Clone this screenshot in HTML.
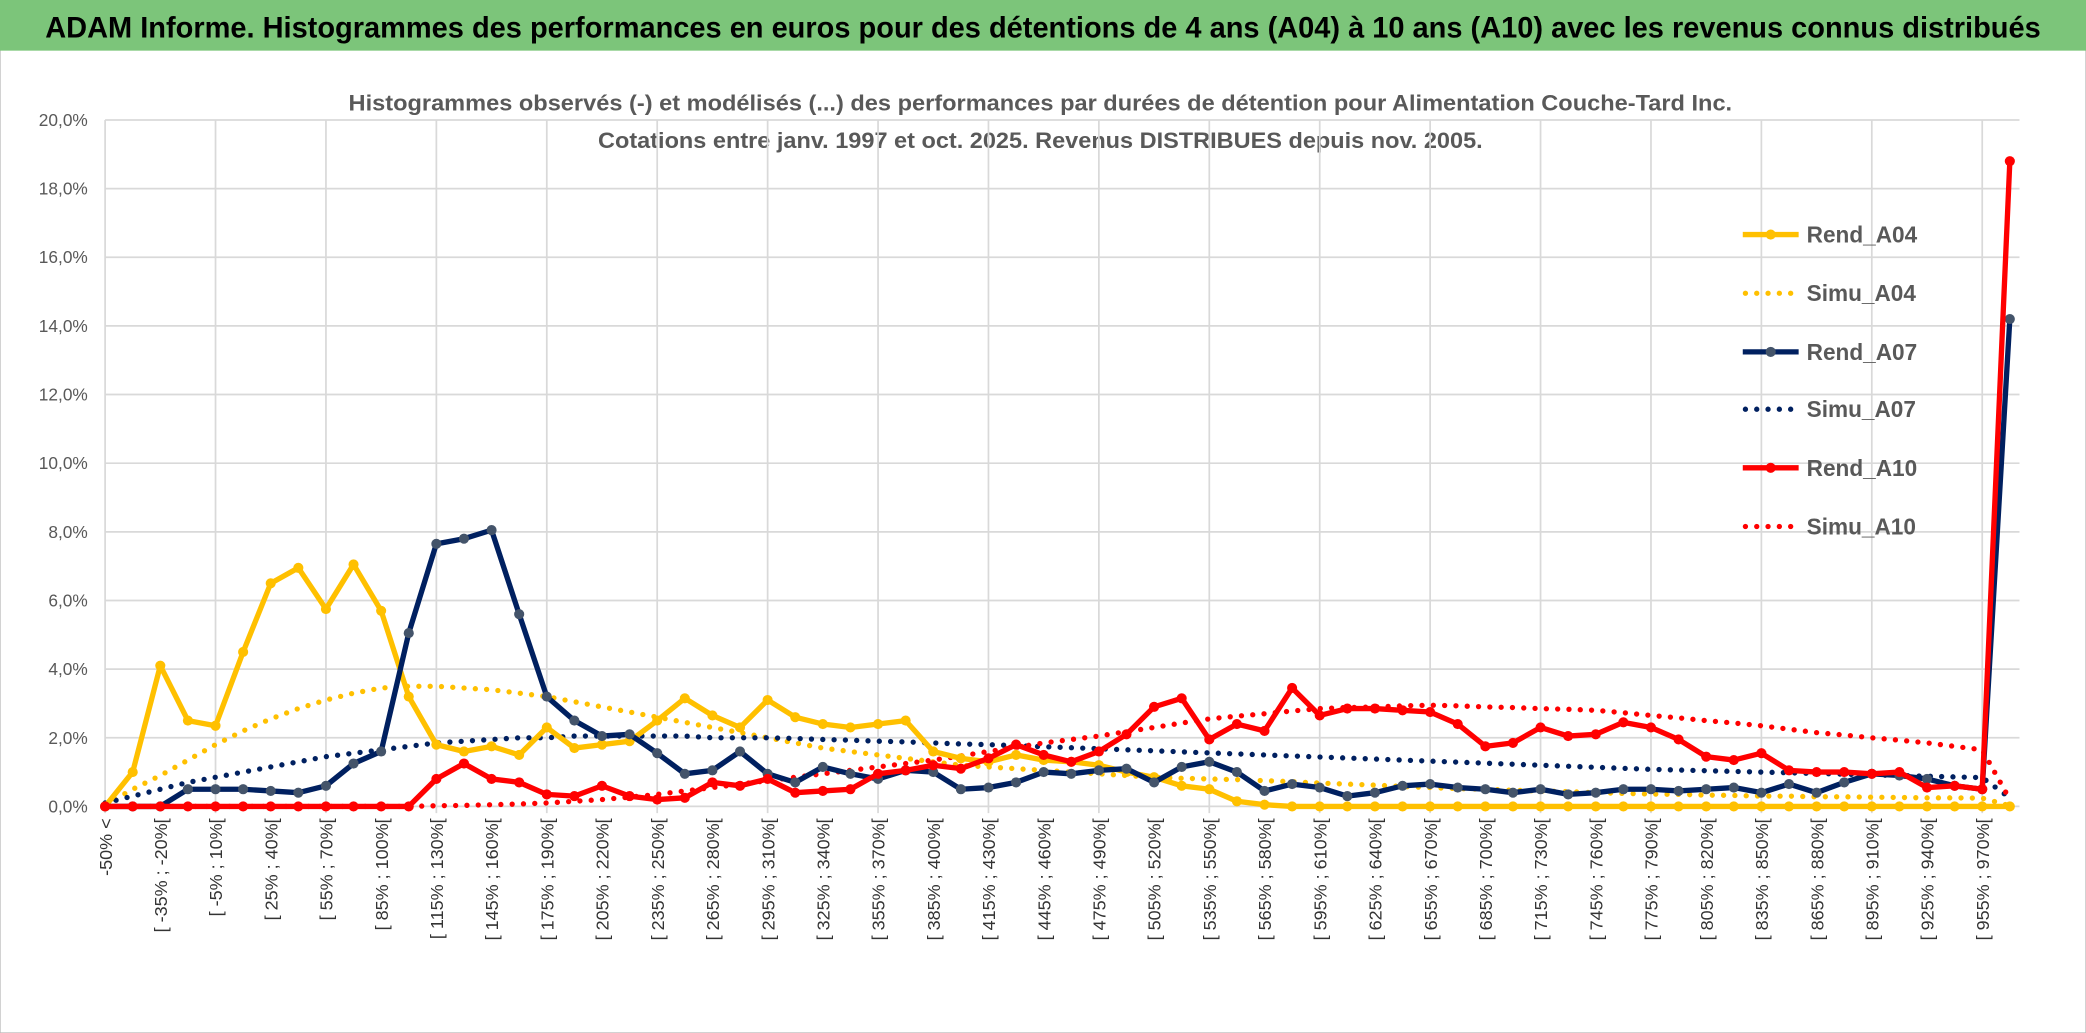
<!DOCTYPE html>
<html><head><meta charset="utf-8"><style>
html,body{margin:0;padding:0;background:#fff;}
svg{display:block;}
text{font-family:"Liberation Sans",sans-serif;}
</style></head><body>
<svg id="chart" width="2086" height="1033" viewBox="0 0 1568 775" preserveAspectRatio="none" xmlns="http://www.w3.org/2000/svg">
<rect x="0" y="0" width="1568" height="775" fill="#fff" stroke="#bbb"/>
<rect x="0" y="0" width="1568" height="38" fill="#7cc57a"/>
<text x="784" y="28" text-anchor="middle" font-size="22" font-weight="bold" fill="#000" textLength="1500" lengthAdjust="spacingAndGlyphs">ADAM Informe. Histogrammes des performances en euros pour des détentions de 4 ans (A04) à 10 ans (A10) avec les revenus connus distribués</text>
<text x="782" y="83" text-anchor="middle" font-size="16.5" font-weight="bold" fill="#595959" textLength="1040" lengthAdjust="spacingAndGlyphs">Histogrammes observés (-) et modélisés (...) des performances par durées de détention pour Alimentation Couche-Tard Inc.</text>
<text x="782" y="111" text-anchor="middle" font-size="16.5" font-weight="bold" fill="#595959" textLength="665" lengthAdjust="spacingAndGlyphs">Cotations entre janv. 1997 et oct. 2025. Revenus DISTRIBUES depuis nov. 2005.</text>
<g id="grid"></g>
<g id="yaxis"></g>
<g id="xaxis"></g>
<g id="series"></g>
<g id="legend"></g>
</svg>
<script>
const yTicks = [0,2,4,6,8,10,12,14,16,18,20];
const rendA04 = [0,1.0,4.1,2.5,2.35,4.5,6.5,6.95,5.75,7.05,5.7,3.2,1.8,1.6,1.75,1.5,2.3,1.7,1.8,1.9,2.5,3.15,2.65,2.3,3.1,2.6,2.4,2.3,2.4,2.5,1.6,1.4,1.3,1.5,1.35,1.3,1.2,1.0,0.85,0.6,0.5,0.15,0.05,0,0,0,0,0,0,0,0,0,0,0,0,0,0,0,0,0,0,0,0,0,0,0,0,0,0,0];
const simuA04 = [0.05,0.5,0.9,1.35,1.8,2.2,2.55,2.85,3.1,3.3,3.45,3.5,3.5,3.45,3.4,3.3,3.2,3.05,2.9,2.75,2.6,2.45,2.3,2.15,2.0,1.85,1.7,1.6,1.5,1.4,1.3,1.2,1.15,1.1,1.05,1.0,0.95,0.9,0.85,0.82,0.8,0.78,0.75,0.72,0.68,0.65,0.62,0.58,0.55,0.52,0.5,0.47,0.45,0.43,0.4,0.38,0.36,0.35,0.33,0.32,0.3,0.3,0.28,0.28,0.27,0.26,0.25,0.25,0.24,0.02];
const rendA07 = [0,0,0,0.5,0.5,0.5,0.45,0.4,0.6,1.25,1.6,5.05,7.65,7.8,8.05,5.6,3.2,2.5,2.05,2.1,1.55,0.95,1.05,1.6,0.95,0.7,1.15,0.95,0.8,1.05,1.0,0.5,0.55,0.7,1.0,0.95,1.05,1.1,0.7,1.15,1.3,1.0,0.45,0.65,0.55,0.3,0.4,0.6,0.65,0.55,0.5,0.4,0.5,0.35,0.4,0.5,0.5,0.45,0.5,0.55,0.4,0.65,0.4,0.7,0.95,0.9,0.8,0.6,0.5,14.2];
const simuA07 = [0.1,0.3,0.5,0.7,0.85,1.0,1.15,1.3,1.45,1.55,1.65,1.75,1.85,1.9,1.95,2.0,2.0,2.05,2.05,2.05,2.05,2.05,2.0,2.0,2.0,1.98,1.95,1.93,1.9,1.88,1.85,1.82,1.8,1.77,1.74,1.71,1.68,1.65,1.62,1.59,1.56,1.53,1.5,1.47,1.44,1.41,1.38,1.35,1.32,1.29,1.26,1.23,1.2,1.17,1.14,1.11,1.08,1.06,1.04,1.02,1.0,0.98,0.96,0.94,0.92,0.9,0.88,0.86,0.84,0.25];
const rendA10 = [0,0,0,0,0,0,0,0,0,0,0,0,0.8,1.25,0.8,0.7,0.35,0.3,0.6,0.3,0.2,0.25,0.7,0.6,0.8,0.4,0.45,0.5,0.95,1.05,1.2,1.1,1.4,1.8,1.5,1.3,1.6,2.1,2.9,3.15,1.95,2.4,2.2,3.45,2.65,2.85,2.85,2.8,2.75,2.4,1.75,1.85,2.3,2.05,2.1,2.45,2.3,1.95,1.45,1.35,1.55,1.05,1.0,1.0,0.95,1.0,0.55,0.6,0.5,18.8];
const simuA10 = [0,0,0,0,0,0,0,0,0,0,0,0,0.02,0.03,0.05,0.07,0.1,0.15,0.2,0.27,0.35,0.45,0.55,0.65,0.75,0.85,0.95,1.05,1.15,1.25,1.35,1.47,1.6,1.72,1.85,1.95,2.05,2.18,2.3,2.43,2.55,2.63,2.7,2.78,2.85,2.88,2.9,2.93,2.95,2.93,2.9,2.88,2.85,2.83,2.8,2.73,2.65,2.58,2.5,2.43,2.35,2.25,2.15,2.08,2.0,1.93,1.85,1.75,1.65,0.2];
const legendLabels = ["Rend_A04","Simu_A04","Rend_A07","Simu_A07","Rend_A10","Simu_A10"];

const NS="http://www.w3.org/2000/svg";
const N = rendA04.length;
const X0=79, STEP=20.75, Y0=605, YTOP=90, YMAX=20;
function xs(i){return X0+i*STEP;}
function ys(v){return Y0-(v/YMAX)*(Y0-YTOP);}
function mk(tag,attrs,parent){const e=document.createElementNS(NS,tag);for(const k in attrs)e.setAttribute(k,attrs[k]);parent.appendChild(e);return e;}
function catLabel(i){
  if(i===0) return "-50% <";
  if(i===N-1) return "> 970%";
  const a=-50+15*(i-1), b=a+15;
  return "[ "+a+"% ; "+b+"%[";
}
const grid=document.getElementById('grid'), yaxis=document.getElementById('yaxis'), xaxis=document.getElementById('xaxis'), series=document.getElementById('series'), legend=document.getElementById('legend');
yTicks.forEach(t=>{
  const l=mk('line',{x1:X0,x2:1518,y1:ys(t),y2:ys(t),stroke:'#d9d9d9','stroke-width':1.3},grid);
  
  
  const tx=mk('text',{x:66,y:ys(t)+4.5,'text-anchor':'end','font-size':13,fill:'#595959'},yaxis);
  tx.textContent=t.toFixed(1).replace('.',',')+'%';
  
  
});
for(let i=0;i<N;i+=4){
  const l=mk('line',{x1:xs(i),x2:xs(i),y1:YTOP,y2:Y0+5,stroke:'#d9d9d9','stroke-width':1.3},grid);
  
  
}
for(let i=0;i<N-1;i+=2){
  const tx=mk('text',{x:0,y:0,'text-anchor':'end','font-size':13.5,fill:'#333',transform:'translate('+(xs(i)+5)+',614) rotate(-90)'},xaxis);
  tx.textContent=catLabel(i);
  
  
}
function pts(arr){return arr.map((v,i)=>xs(i)+','+ys(v)).join(' ');}
function drawSim(arr,color,name){
  const p=mk('polyline',{points:pts(arr),fill:'none',stroke:color,'stroke-width':4,'stroke-linecap':'round','stroke-dasharray':'0 8.5'},series);
  
  
}
function drawRend(arr,color,mcolor,name){
  const p=mk('polyline',{points:pts(arr),fill:'none',stroke:color,'stroke-width':4,'stroke-linejoin':'round'},series);
  
  
  arr.forEach((v,i)=>{
    const c=mk('circle',{cx:xs(i),cy:ys(v),r:3.8,fill:mcolor},series);
    
    
  });
}
drawSim(simuA04,'#ffc000','simu-a04-line');
drawSim(simuA07,'#002060','simu-a07-line');
drawSim(simuA10,'#ff0000','simu-a10-line');
drawRend(rendA04,'#ffc000','#ffc000','rend-a04-line');
drawRend(rendA07,'#002060','#44546a','rend-a07-line');
drawRend(rendA10,'#ff0000','#ff0000','rend-a10-line');
const lColors=['#ffc000','#ffc000','#002060','#002060','#ff0000','#ff0000'];
const lY=[176,220,264,307,351,395];
legendLabels.forEach((lab,k)=>{
  const y=lY[k];
  const g=mk('g',{},legend);
  
  
  if(k%2===0){
    mk('line',{x1:1310,x2:1352,y1:y,y2:y,stroke:lColors[k],'stroke-width':4},g);
    mk('circle',{cx:1331,cy:y,r:3.8,fill:k===2?'#44546a':lColors[k]},g);
  } else {
    mk('line',{x1:1312,x2:1352,y1:y,y2:y,stroke:lColors[k],'stroke-width':4,'stroke-linecap':'round','stroke-dasharray':'0 8.5'},g);
  }
  const t=mk('text',{x:1358,y:y+6,'font-size':17,'font-weight':'bold',fill:'#595959'},g);
  t.textContent=lab;
});
</script>
</body></html>
